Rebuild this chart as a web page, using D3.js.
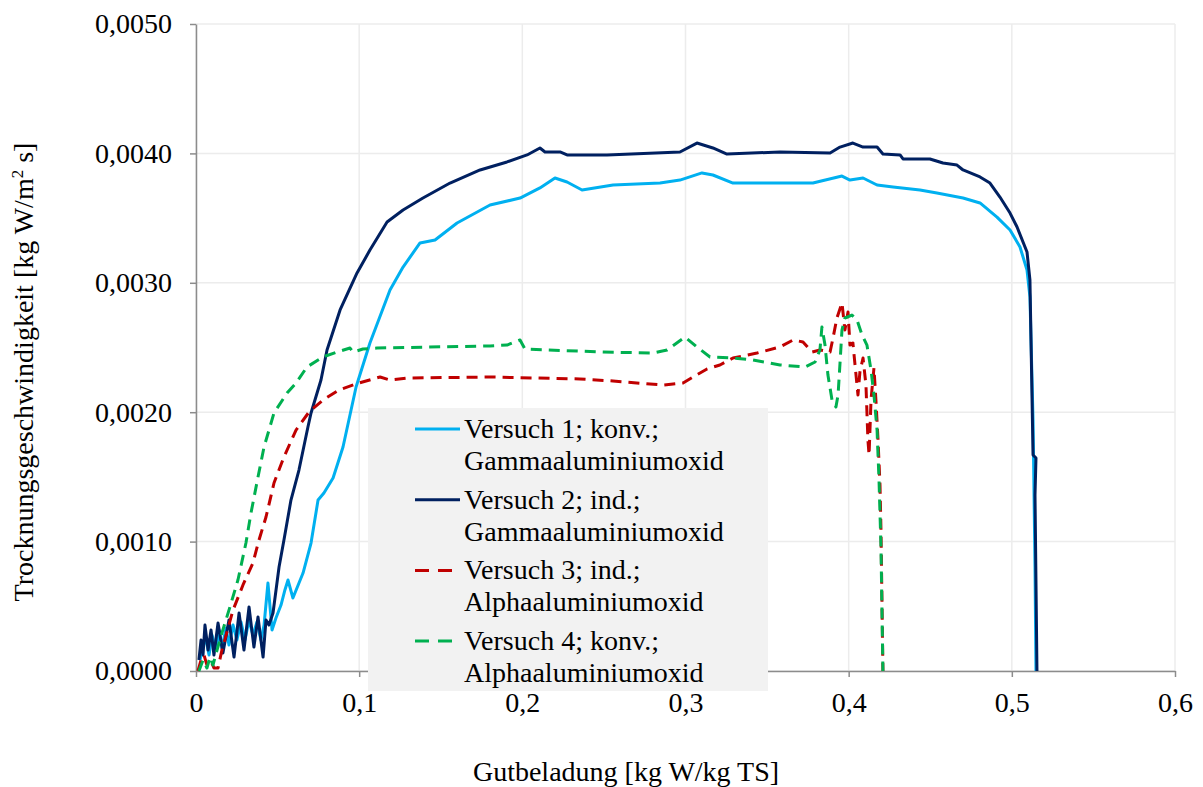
<!DOCTYPE html>
<html>
<head>
<meta charset="utf-8">
<script src="https://cdn.jsdelivr.net/npm/d3@7"></script>
<style>
  html, body { margin: 0; padding: 0; background: #fff; }
  svg { display: block; }
</style>
</head>
<body>
<svg id="chart" width="1203" height="787"></svg>
<script>
// Drying rate vs. moisture content, four drying runs
const xTicks = [0, 0.1, 0.2, 0.3, 0.4, 0.5, 0.6];
const yTicks = [0, 0.001, 0.002, 0.003, 0.004, 0.005];
const xTickLabels = ["0", "0,1", "0,2", "0,3", "0,4", "0,5", "0,6"];
const yTickLabels = ["0,0000", "0,0010", "0,0020", "0,0030", "0,0040", "0,0050"];

const seriesNames = [
  ["Versuch 1; konv.;", "Gammaaluminiumoxid"],
  ["Versuch 2; ind.;", "Gammaaluminiumoxid"],
  ["Versuch 3; ind.;", "Alphaaluminiumoxid"],
  ["Versuch 4; konv.;", "Alphaaluminiumoxid"]
];

// Versuch 1
const x1 = [0.0025,0.0043,0.0061,0.0080,0.0098,0.0123,0.0141,0.0159,0.0184,0.0202,
  0.0227,0.0251,0.0276,0.0300,0.0325,0.0349,0.0374,0.0398,0.0417,0.0441,
  0.0466,0.0490,0.0521,0.0545,0.0564,0.0594,0.0656,0.0705,0.0748,0.0784,
  0.0840,0.0901,0.0981,0.1066,0.1189,0.1269,0.1373,0.1465,0.1600,0.1802,
  0.1986,0.2108,0.2200,0.2274,0.2366,0.2556,0.2844,0.2966,0.3101,0.3168,
  0.3291,0.3579,0.3781,0.3959,0.4008,0.4088,0.4174,0.4272,0.4437,0.4541,
  0.4701,0.4805,0.4909,0.4989,0.5050,0.5093,0.5111,0.5130,0.5142,0.5148];
const y1 = [0.000085,0.000201,0.000240,0.000124,0.000278,0.000162,0.000317,0.000178,0.000332,0.000201,
  0.000355,0.000240,0.000379,0.000240,0.000394,0.000278,0.000379,0.000240,0.000355,0.000680,
  0.000317,0.000410,0.000510,0.000626,0.000703,0.000564,0.000757,0.000989,0.001321,0.001376,
  0.001491,0.001731,0.002195,0.002535,0.002944,0.003122,0.003308,0.003331,0.003462,0.003601,
  0.003655,0.003733,0.003810,0.003779,0.003717,0.003756,0.003771,0.003794,0.003849,0.003833,
  0.003771,0.003771,0.003771,0.003825,0.003794,0.003810,0.003756,0.003740,0.003717,0.003694,
  0.003655,0.003617,0.003508,0.003408,0.003277,0.003099,0.002890,0.001940,0.000804,0.000000];

// Versuch 2
const x2 = [0.0018,0.0031,0.0043,0.0055,0.0074,0.0092,0.0110,0.0135,0.0165,0.0202,
  0.0233,0.0264,0.0294,0.0325,0.0355,0.0380,0.0411,0.0429,0.0447,0.0472,
  0.0509,0.0539,0.0582,0.0631,0.0686,0.0705,0.0766,0.0803,0.0883,0.0987,
  0.1066,0.1171,0.1269,0.1391,0.1557,0.1741,0.1906,0.2029,0.2108,0.2139,
  0.2231,0.2274,0.2519,0.2966,0.3070,0.3168,0.3254,0.3579,0.3886,0.3947,
  0.4026,0.4088,0.4174,0.4210,0.4315,0.4333,0.4498,0.4578,0.4664,0.4701,
  0.4805,0.4866,0.4927,0.4989,0.5032,0.5093,0.5111,0.5130,0.5148,0.5142,0.5154];
const y2 = [0.000085,0.000240,0.000124,0.000355,0.000162,0.000317,0.000124,0.000371,0.000139,0.000394,
  0.000108,0.000448,0.000162,0.000495,0.000185,0.000417,0.000108,0.000394,0.000355,0.000448,
  0.000804,0.001012,0.001321,0.001553,0.001886,0.001994,0.002249,0.002481,0.002790,0.003076,
  0.003253,0.003470,0.003563,0.003655,0.003771,0.003872,0.003934,0.003988,0.004042,0.004011,
  0.004011,0.003988,0.003988,0.004011,0.004080,0.004042,0.003995,0.004011,0.004003,0.004049,
  0.004080,0.004049,0.004049,0.003995,0.003988,0.003957,0.003957,0.003926,0.003910,0.003872,
  0.003818,0.003771,0.003663,0.003539,0.003431,0.003238,0.003022,0.001669,0.001646,0.001360,0.000000];

// Versuch 3
const x3 = [0.0012,0.0031,0.0049,0.0067,0.0092,0.0110,0.0135,0.0159,0.0227,0.0288,
  0.0349,0.0386,0.0429,0.0478,0.0539,0.0613,0.0693,0.0778,0.0876,0.0999,
  0.1128,0.1189,0.1293,0.1802,0.2353,0.2556,0.2862,0.2985,0.3046,0.3132,
  0.3211,0.3291,0.3438,0.3579,0.3659,0.3720,0.3775,0.3824,0.3886,0.3904,
  0.3928,0.3959,0.3977,0.3996,0.4008,0.4026,0.4039,0.4057,0.4069,0.4088,
  0.4106,0.4118,0.4125,0.4137,0.4155,0.4167,0.4180,0.4192,0.4198,0.4204,0.4210];
const y3 = [0.000000,0.000085,0.000124,0.000046,0.000077,0.000023,0.000023,0.000162,0.000471,0.000665,
  0.000835,0.001012,0.001190,0.001453,0.001654,0.001862,0.002002,0.002094,0.002172,0.002226,
  0.002272,0.002249,0.002264,0.002272,0.002257,0.002241,0.002210,0.002226,0.002272,0.002334,
  0.002365,0.002419,0.002457,0.002504,0.002558,0.002543,0.002465,0.002481,0.002465,0.002573,
  0.002728,0.002844,0.002635,0.002774,0.002519,0.002535,0.002365,0.002133,0.002311,0.002419,
  0.002210,0.001785,0.001669,0.002094,0.002342,0.002094,0.001785,0.001437,0.001090,0.000549,0.000000];

// Versuch 4
const x4 = [0.0018,0.0043,0.0067,0.0086,0.0104,0.0129,0.0159,0.0208,0.0257,0.0306,
  0.0337,0.0380,0.0417,0.0478,0.0558,0.0613,0.0680,0.0778,0.0864,0.0944,
  0.0962,0.1023,0.1109,0.1802,0.1906,0.1986,0.2016,0.2494,0.2801,0.2887,
  0.2997,0.3070,0.3150,0.3291,0.3414,0.3579,0.3732,0.3794,0.3824,0.3836,
  0.3855,0.3873,0.3898,0.3922,0.3935,0.3947,0.3959,0.3977,0.4020,0.4051,
  0.4082,0.4112,0.4137,0.4155,0.4174,0.4186,0.4198,0.4210];
const y4 = [0.000000,0.000085,0.000023,0.000108,0.000046,0.000162,0.000294,0.000495,0.000703,0.000989,
  0.001221,0.001499,0.001731,0.001994,0.002148,0.002226,0.002349,0.002427,0.002465,0.002496,
  0.002465,0.002488,0.002496,0.002512,0.002519,0.002558,0.002488,0.002465,0.002457,0.002481,
  0.002581,0.002504,0.002427,0.002419,0.002403,0.002365,0.002349,0.002388,0.002481,0.002658,
  0.002519,0.002287,0.002094,0.002040,0.002133,0.002380,0.002635,0.002728,0.002751,0.002713,
  0.002597,0.002519,0.002326,0.002133,0.001862,0.001476,0.000958,0.000000];

const seriesX = [x1, x2, x3, x4];
const seriesY = [y1, y2, y3, y4];
const colors = ["#00b0f0", "#002060", "#c00000", "#00b050"];
const dashes = [null, null, "11,7", "11,7"];

const FONT = "'Liberation Serif', 'Times New Roman', serif";
const svg = d3.select("#chart");
const plot = { left: 196, right: 1175, top: 24, bottom: 671 };

const x = d3.scaleLinear().domain([0, 0.6]).range([plot.left, plot.right]);
const y = d3.scaleLinear().domain([0, 0.005]).range([plot.bottom, plot.top]);

// gridlines
svg.append("g").selectAll("line").data(yTicks).join("line")
  .attr("x1", plot.left).attr("x2", plot.right)
  .attr("y1", d => y(d)).attr("y2", d => y(d))
  .attr("stroke", "#ececec").attr("stroke-width", 1.5);
svg.append("g").selectAll("line").data(xTicks).join("line")
  .attr("x1", d => x(d)).attr("x2", d => x(d))
  .attr("y1", plot.top).attr("y2", plot.bottom)
  .attr("stroke", "#ececec").attr("stroke-width", 1.5);

// axes
const xAxis = d3.axisBottom(x).tickValues(xTicks)
  .tickFormat((d, i) => xTickLabels[i]).tickSize(6).tickSizeOuter(0).tickPadding(15);
const yAxis = d3.axisLeft(y).tickValues(yTicks)
  .tickFormat((d, i) => yTickLabels[i]).tickSize(6).tickSizeOuter(0).tickPadding(18);

const gx = svg.append("g").attr("transform", `translate(0,${plot.bottom})`).call(xAxis);
const gy = svg.append("g").attr("transform", `translate(${plot.left},0)`).call(yAxis);
[gx, gy].forEach(g => {
  g.select(".domain").attr("stroke", "#8c8c8c").attr("stroke-width", 1.5);
  g.selectAll(".tick line").attr("stroke", "#8c8c8c").attr("stroke-width", 1.5);
  g.selectAll(".tick text").style("font-family", FONT).style("font-size", "28px")
    .attr("fill", "#000");
});

// series lines
const line = d3.line().x(d => x(d[0])).y(d => y(d[1]));
seriesX.forEach((xs, i) => {
  const pts = xs.map((v, j) => [v, seriesY[i][j]]);
  svg.append("path").datum(pts)
    .attr("d", line)
    .attr("fill", "none")
    .attr("stroke", colors[i])
    .attr("stroke-width", 3)
    .attr("stroke-linejoin", "round")
    .attr("stroke-dasharray", dashes[i]);
});

// legend
const lg = svg.append("g").attr("transform", "translate(368,408)");
lg.append("rect").attr("width", 400).attr("height", 283).attr("fill", "#f2f2f2");
seriesNames.forEach((nm, i) => {
  const oy = 21 + i * 70.7;
  lg.append("line").attr("x1", 47).attr("x2", 92).attr("y1", oy).attr("y2", oy)
    .attr("stroke", colors[i]).attr("stroke-width", 3)
    .attr("stroke-dasharray", dashes[i] ? "14,9" : null);
  nm.forEach((t, k) => {
    lg.append("text").attr("x", 96).attr("y", oy + 9 + k * 32)
      .style("font-family", FONT).style("font-size", "28px").attr("fill", "#000").text(t);
  });
});

// axis titles
svg.append("text").attr("x", 626).attr("y", 781).attr("text-anchor", "middle")
  .style("font-family", FONT).style("font-size", "28px").attr("fill", "#000")
  .text("Gutbeladung [kg W/kg TS]");
const yt = svg.append("text").attr("transform", "translate(33,372) rotate(-90)")
  .attr("text-anchor", "middle")
  .style("font-family", FONT).style("font-size", "28px").attr("fill", "#000");
yt.append("tspan").text("Trocknungsgeschwindigkeit [kg W/m");
yt.append("tspan").style("font-size", "17px").attr("dy", -10).text("2");
yt.append("tspan").attr("dy", 10).text(" s]");
</script>
</body>
</html>
